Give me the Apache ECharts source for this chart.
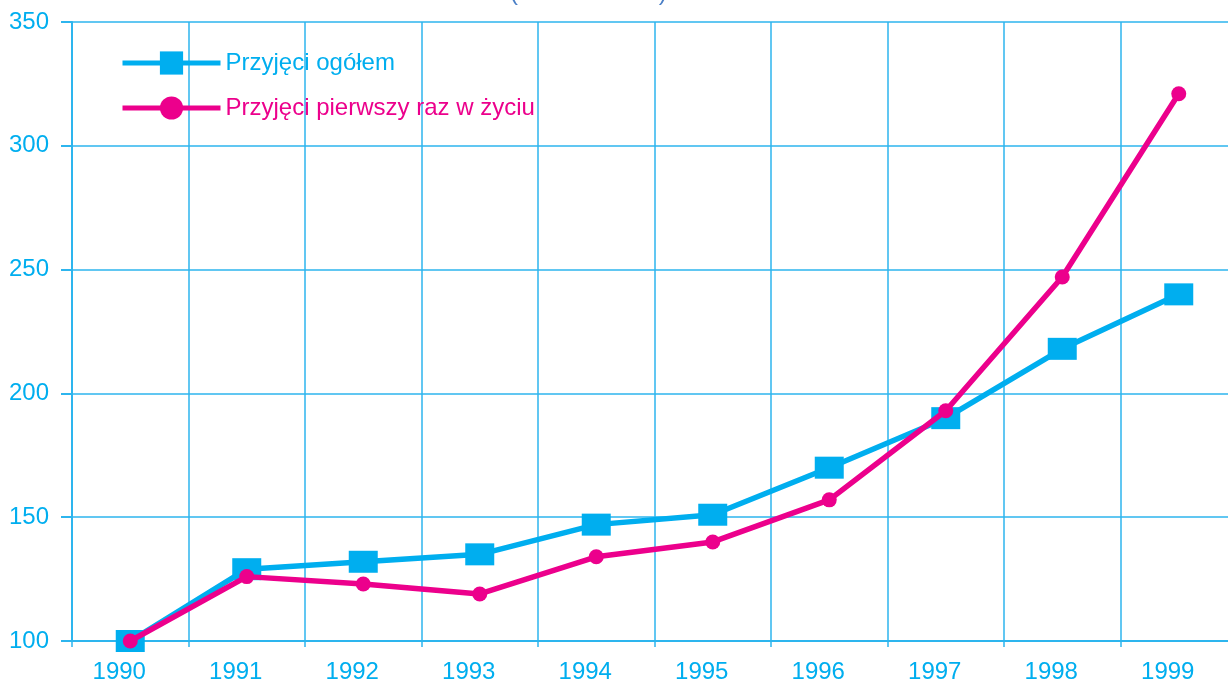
<!DOCTYPE html>
<html>
<head>
<meta charset="utf-8">
<script src="https://cdn.jsdelivr.net/npm/echarts@6/dist/echarts.min.js"></script>
<style>
  html, body { margin: 0; padding: 0; background: #fff; }
  #chart { width: 1228px; height: 685px; }
</style>
</head>
<body>
<div id="chart"></div>
<script>
// dane (1990 = 100)
var years = ['1990', '1991', '1992', '1993', '1994', '1995', '1996', '1997', '1998', '1999'];
var ogolem = [100, 129, 132, 135, 147, 151, 170, 190, 218, 240];
var pierwszyRaz = [100, 126, 123, 119, 134, 140, 157, 193, 247, 321];
var yTicks = [100, 150, 200, 250, 300, 350];

var CYAN = '#00aeef';
var MAGENTA = '#ec008c';
var GRID = '#2db5ee';
var FONT = '"Liberation Sans", Arial, sans-serif';

var myChart = echarts.init(document.getElementById('chart'));

var option = {
    backgroundColor: '#fff',
    animation: false,
    title: {
        text: '(1990 r. = 100)',
        left: 505,
        top: -24,
        textStyle: { color: '#4a7fc6', fontSize: 24, fontWeight: 'normal', fontFamily: FONT }
    },
    // wykres jest przycięty z prawej strony - siatka wychodzi poza obraz
    grid: {
        left: 72, top: 22, width: 1165, height: 619,
        containLabel: false,
        outerBoundsMode: 'none'
    },
    legend: {
        orient: 'vertical',
        left: 115,
        top: 46,
        padding: 5,
        itemWidth: 98,
        itemHeight: 29,
        itemGap: 21,
        lineStyle: { width: 5 },
        textStyle: { fontSize: 24, fontFamily: FONT },
        data: [
            { name: 'Przyjęci ogółem', textStyle: { color: CYAN } },
            { name: 'Przyjęci pierwszy raz w życiu', textStyle: { color: MAGENTA } }
        ]
    },
    xAxis: {
        type: 'category',
        data: years,
        boundaryGap: true,
        axisLine: { lineStyle: { color: GRID, width: 2 } },
        axisTick: { show: true, length: 6, lineStyle: { color: GRID, width: 1.5 } },
        splitLine: { show: true, lineStyle: { color: GRID, width: 1.5 } },
        axisLabel: {
            color: CYAN, fontSize: 24, fontFamily: FONT, margin: 19,
            padding: [0, 22, 0, 0]
        }
    },
    yAxis: {
        type: 'value',
        min: yTicks[0],
        max: yTicks[yTicks.length - 1],
        interval: 50,
        axisLine: { show: true, lineStyle: { color: GRID, width: 2 } },
        axisTick: { show: true, length: 11, lineStyle: { color: GRID, width: 2 } },
        splitLine: { show: true, lineStyle: { color: GRID, width: 1.5 } },
        axisLabel: { color: CYAN, fontSize: 24, fontFamily: FONT, margin: 23 }
    },
    series: [
        {
            name: 'Przyjęci ogółem',
            type: 'line',
            data: ogolem,
            symbol: 'rect',
            symbolSize: [29, 22],
            itemStyle: { color: CYAN },
            lineStyle: { color: CYAN, width: 5.5 },
            z: 2
        },
        {
            name: 'Przyjęci pierwszy raz w życiu',
            type: 'line',
            data: pierwszyRaz,
            symbol: 'circle',
            symbolSize: 15,
            itemStyle: { color: MAGENTA },
            lineStyle: { color: MAGENTA, width: 5.5 },
            z: 3
        }
    ]
};

myChart.setOption(option);
</script>
</body>
</html>
